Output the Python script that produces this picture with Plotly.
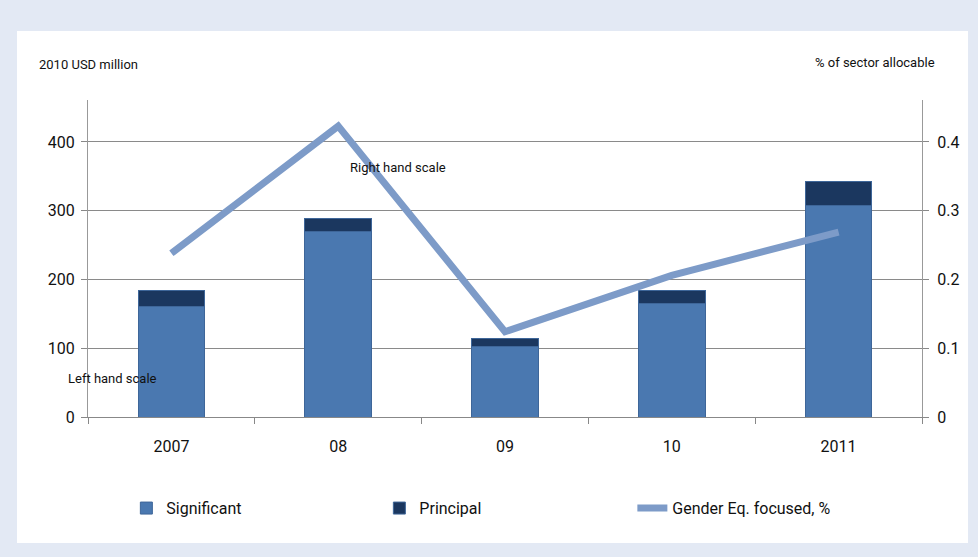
import plotly.graph_objects as go

years = ["2007", "08", "09", "10", "2011"]
significant = [160, 270, 102, 165, 308]
principal = [24, 18, 12, 19, 35]
gender_pct = [0.238, 0.423, 0.124, 0.206, 0.269]

FONT = "Liberation Sans Narrow, Roboto, sans-serif"

fig = go.Figure()
fig.add_trace(go.Bar(x=years, y=significant, name="Significant",
                     marker=dict(color="#4A78B0", line=dict(color="#3E6699", width=1)),
                     width=0.4))
fig.add_trace(go.Bar(x=years, y=principal, name="Principal",
                     marker=dict(color="#1B375F", line=dict(color="#3E6699", width=1)),
                     width=0.4))
fig.add_trace(go.Scatter(x=years, y=gender_pct, name="Gender Eq. focused, %",
                         yaxis="y2", mode="lines",
                         line=dict(color="#7D9BC8", width=7)))

fig.update_layout(
    width=978, height=557,
    barmode="stack",
    paper_bgcolor="#E3E9F4",
    plot_bgcolor="#E9EEF5",
    font=dict(family=FONT, size=16, color="#111111"),
    margin=dict(l=88, r=56, t=100, b=140),
    showlegend=True,
    legend=dict(orientation="h", x=0.046, y=-0.234, xanchor="left", yanchor="top",
                font=dict(size=16), bgcolor="rgba(0,0,0,0)",
                entrywidth=208, entrywidthmode="pixels", itemwidth=30,
                traceorder="normal"),
    xaxis=dict(type="category", tickson="boundaries", ticks="outside", ticklen=6,
               tickcolor="#888888", showline=True, linecolor="#888888", linewidth=1,
               showgrid=False, tickfont=dict(size=16), ticklabelstandoff=15),
    yaxis=dict(range=[0, 461], tickvals=[0, 100, 200, 300, 400], showgrid=True,
               gridcolor="#8A8A8A", gridwidth=1.3, showline=True, linecolor="#999999",
               ticks="outside", ticklen=6, tickcolor="#888888", zeroline=False,
               tickfont=dict(size=16), ticklabelstandoff=3),
    yaxis2=dict(range=[0, 0.461], tickvals=[0, 0.1, 0.2, 0.3, 0.4], overlaying="y",
                side="right", showgrid=False, showline=True, linecolor="#999999",
                ticks="outside", ticklen=6, tickcolor="#888888", zeroline=False,
                tickfont=dict(size=16), ticklabelstandoff=5),
    shapes=[dict(type="rect", xref="paper", yref="paper", layer="below",
                 x0=(17 - 88) / 834, x1=(968 - 88) / 834,
                 y0=(417 - 543) / 317, y1=(417 - 31) / 317,
                 fillcolor="white", line=dict(width=0))],
    annotations=[
        dict(text="2010 USD million", xref="paper", yref="paper",
             x=(37 - 88) / 834, y=(417 - 64) / 317, xanchor="left", yanchor="middle",
             showarrow=False, font=dict(size=13)),
        dict(text="% of sector allocable", xref="paper", yref="paper",
             x=(937 - 88) / 834, y=(417 - 62) / 317, xanchor="right", yanchor="middle",
             showarrow=False, font=dict(size=13)),
        dict(text="Left hand scale", xref="paper", yref="paper",
             x=(66 - 88) / 834, y=(417 - 378) / 317, xanchor="left", yanchor="middle",
             showarrow=False, font=dict(size=13)),
        dict(text="Right hand scale", xref="paper", yref="paper",
             x=(348 - 88) / 834, y=(417 - 167) / 317, xanchor="left", yanchor="middle",
             showarrow=False, font=dict(size=13)),
    ],
)

fig.write_html("out.html", config={"displayModeBar": False},
               post_script="document.body.style.margin='0';document.body.style.background='#E3E9F4';")
